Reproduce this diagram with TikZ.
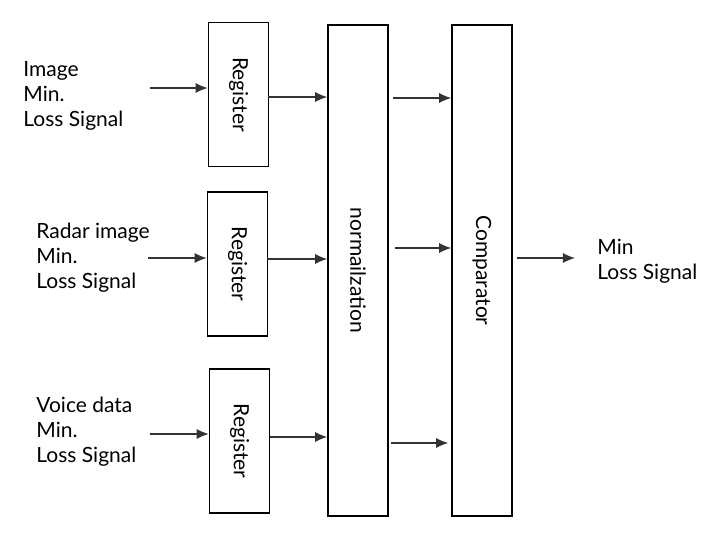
\documentclass[tikz,border=0pt]{standalone}
\usepackage{fontspec}
\setmainfont{Lato}
\usepackage{tikz}
\usetikzlibrary{arrows.meta, positioning}

\begin{document}
\begin{tikzpicture}[x=0.5pt, y=-0.5pt,
  box/.style={draw, line width=0.75pt, minimum width=30pt, inner sep=0pt},
  vtext/.style={rotate=-90, inner sep=0pt, font=\fontsize{10.5}{12.5}\selectfont},
  sig/.style={-{Latex[length=6pt, width=5pt]}, line width=0.6pt, draw=black!80},
  txt/.style={align=left, anchor=west, inner sep=0pt, font=\fontsize{10.5}{12.5}\selectfont}]
  \useasboundingbox (0,0) rectangle (720,536);

  % blocks
  \node[box, minimum height=72pt] (reg1) at (238.5,94.5) {};
  \node[box, minimum height=72pt] (reg2) at (237.5,264) {};
  \node[box, minimum height=72pt] (reg3) at (239.5,441) {};
  \node[box, minimum height=245.5pt] (norm) at (358,270.5) {};
  \node[box, minimum height=245.5pt] (comp) at (482,270.5) {};

  \node[vtext] (reg1t) at (reg1) {Register};
  \node[vtext] (reg2t) at (reg2) {Register};
  \node[vtext] (reg3t) at (reg3) {Register};
  \node[vtext] (normt) at (norm) {normailzation};
  \node[vtext] (compt) at (comp) {Comparator};

  % input labels
  \node[txt] (in1t) at (23,96) {Image\\Min.\\Loss Signal};
  \node[txt] (in2t) at (36,258) {Radar image\\Min.\\Loss Signal};
  \node[txt] (in3t) at (36,432) {Voice data\\Min.\\Loss Signal};
  \node[txt] (outt) at (597,261) {Min\\Loss Signal};

  % inputs
  \coordinate (in1) at (150,88);
  \coordinate (in2) at (148,258);
  \coordinate (in3) at (150,434);
  \draw[sig] (in1) -- (in1 -| reg1.west);
  \draw[sig] (in2) -- (in2 -| reg2.west);
  \draw[sig] (in3) -- (in3 -| reg3.west);

  % registers to normalization
  \coordinate (r1o) at (268,97);
  \coordinate (r2o) at (267,259);
  \coordinate (r3o) at (270,437);
  \draw[sig] (r1o) -- (r1o -| norm.west);
  \draw[sig] (r2o) -- (r2o -| norm.west);
  \draw[sig] (r3o) -- (r3o -| norm.west);

  % normalization to comparator
  \coordinate (n1o) at (393,98);
  \coordinate (n2o) at (395,248);
  \coordinate (n3o) at (391,443);
  \draw[sig] (n1o) -- (n1o -| comp.west);
  \draw[sig] (n2o) -- (n2o -| comp.west);
  \draw[sig] (n3o) -- ([xshift=-1.5pt]n3o -| comp.west);

  % output
  \coordinate (co) at (517,258);
  \coordinate (ce) at (575,258);
  \draw[sig] (co) -- (ce);
\end{tikzpicture}
\end{document}
